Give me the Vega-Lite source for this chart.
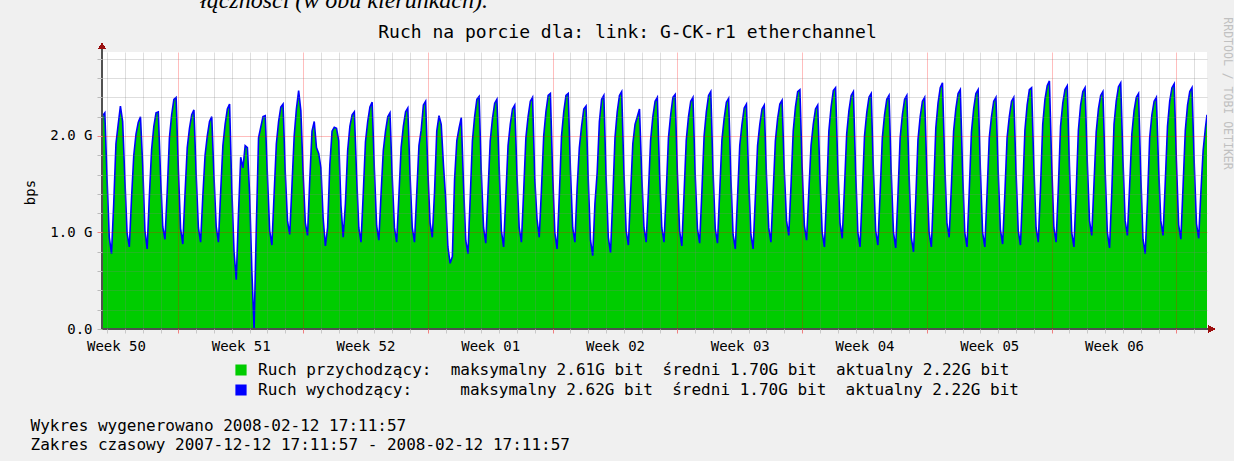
{
"$schema": "https://vega.github.io/schema/vega-lite/v6.json",
"width": 1105, "height": 277,
"autosize": "none",
"padding": {"left": 102, "top": 52, "right": 27, "bottom": 132},
"background": "#f0f0f0",
"config": {"view": {"fill": "#ffffff", "stroke": null}, "font": "DejaVu Sans Mono"},
"title": {"text": "łączności (w obu kierunkach).", "font": "Liberation Serif", "fontStyle": "italic", "fontWeight": "normal", "fontSize": 24, "color": "#000000", "anchor": "start", "frame": "group", "dx": 98, "offset": -15, "baseline": "alphabetic"},
"data": {"format": {"parse": {"t": "date:'%Y%m%d%H%M'"}}, "values": [
{"t":"200712121712","i":2.07,"o":2.07},{"t":"200712121800","i":2.20,"o":2.21},{"t":"200712122100","i":2.24,"o":2.24},
{"t":"200712130000","i":1.56,"o":1.56},{"t":"200712130300","i":0.95,"o":0.95},{"t":"200712130600","i":0.78,"o":0.78},{"t":"200712130900","i":1.30,"o":1.30},{"t":"200712131200","i":1.92,"o":1.92},{"t":"200712131500","i":2.12,"o":2.12},{"t":"200712131800","i":2.31,"o":2.31},{"t":"200712132100","i":2.15,"o":2.15},
{"t":"200712140000","i":1.55,"o":1.55},{"t":"200712140300","i":0.99,"o":0.99},{"t":"200712140600","i":0.85,"o":0.85},{"t":"200712140900","i":1.36,"o":1.36},{"t":"200712141200","i":1.80,"o":1.80},{"t":"200712141500","i":2.02,"o":2.02},{"t":"200712141800","i":2.14,"o":2.14},{"t":"200712142100","i":2.20,"o":2.20},
{"t":"200712150000","i":1.70,"o":1.70},{"t":"200712150300","i":1.02,"o":1.02},{"t":"200712150600","i":0.83,"o":0.83},{"t":"200712150900","i":1.38,"o":1.38},{"t":"200712151200","i":1.86,"o":1.86},{"t":"200712151500","i":2.10,"o":2.10},{"t":"200712151800","i":2.24,"o":2.24},{"t":"200712152100","i":2.25,"o":2.25},
{"t":"200712160000","i":1.60,"o":1.60},{"t":"200712160300","i":1.06,"o":1.06},{"t":"200712160600","i":0.93,"o":0.93},{"t":"200712160900","i":1.42,"o":1.42},{"t":"200712161200","i":1.98,"o":1.98},{"t":"200712161500","i":2.22,"o":2.22},{"t":"200712161800","i":2.38,"o":2.38},{"t":"200712162100","i":2.40,"o":2.40},
{"t":"200712170000","i":1.66,"o":1.66},{"t":"200712170300","i":1.04,"o":1.04},{"t":"200712170600","i":0.88,"o":0.88},{"t":"200712170900","i":1.40,"o":1.40},{"t":"200712171200","i":1.88,"o":1.88},{"t":"200712171500","i":2.08,"o":2.08},{"t":"200712171800","i":2.22,"o":2.22},{"t":"200712172100","i":2.27,"o":2.27},
{"t":"200712180000","i":1.60,"o":1.60},{"t":"200712180300","i":1.05,"o":1.05},{"t":"200712180600","i":0.90,"o":0.90},{"t":"200712180900","i":1.38,"o":1.38},{"t":"200712181200","i":1.80,"o":1.80},{"t":"200712181500","i":2.00,"o":2.00},{"t":"200712181800","i":2.15,"o":2.15},{"t":"200712182100","i":2.20,"o":2.20},
{"t":"200712190000","i":1.58,"o":1.58},{"t":"200712190300","i":1.06,"o":1.06},{"t":"200712190600","i":0.90,"o":0.90},{"t":"200712190900","i":1.42,"o":1.42},{"t":"200712191200","i":1.90,"o":1.90},{"t":"200712191500","i":2.12,"o":2.12},{"t":"200712191800","i":2.28,"o":2.28},{"t":"200712192100","i":2.33,"o":2.33},
{"t":"200712200000","i":1.45,"o":1.45},{"t":"200712200300","i":0.80,"o":0.80},{"t":"200712200600","i":0.51,"o":0.51},{"t":"200712200900","i":1.20,"o":1.20},{"t":"200712201200","i":1.78,"o":1.78},{"t":"200712201500","i":1.67,"o":1.67},{"t":"200712201800","i":1.90,"o":1.90},{"t":"200712202100","i":1.88,"o":1.88},
{"t":"200712210000","i":1.40,"o":1.40},{"t":"200712210300","i":0.60,"o":0.60},{"t":"200712210600","i":0.00,"o":0.00},{"t":"200712210900","i":1.05,"o":1.05},{"t":"200712211200","i":1.98,"o":1.98},{"t":"200712211500","i":2.09,"o":2.09},{"t":"200712211800","i":2.20,"o":2.20},{"t":"200712212100","i":2.21,"o":2.21},
{"t":"200712220000","i":1.58,"o":1.58},{"t":"200712220300","i":1.02,"o":1.02},{"t":"200712220600","i":0.87,"o":0.87},{"t":"200712220900","i":1.40,"o":1.40},{"t":"200712221200","i":1.92,"o":1.92},{"t":"200712221500","i":2.15,"o":2.15},{"t":"200712221800","i":2.30,"o":2.30},{"t":"200712222100","i":2.33,"o":2.33},
{"t":"200712230000","i":1.62,"o":1.62},{"t":"200712230300","i":1.12,"o":1.12},{"t":"200712230600","i":0.98,"o":0.98},{"t":"200712230900","i":1.48,"o":1.48},{"t":"200712231200","i":2.00,"o":2.00},{"t":"200712231500","i":2.28,"o":2.28},{"t":"200712231800","i":2.46,"o":2.47},{"t":"200712232100","i":2.26,"o":2.26},
{"t":"200712240000","i":1.62,"o":1.62},{"t":"200712240300","i":1.10,"o":1.10},{"t":"200712240600","i":0.97,"o":0.97},{"t":"200712240900","i":1.55,"o":1.55},{"t":"200712241200","i":2.05,"o":2.05},{"t":"200712241500","i":2.15,"o":2.15},{"t":"200712241800","i":1.88,"o":1.88},{"t":"200712242100","i":1.82,"o":1.82},
{"t":"200712250000","i":1.67,"o":1.67},{"t":"200712250300","i":1.15,"o":1.15},{"t":"200712250600","i":0.86,"o":0.86},{"t":"200712250900","i":1.05,"o":1.05},{"t":"200712251200","i":1.70,"o":1.70},{"t":"200712251500","i":2.05,"o":2.05},{"t":"200712251800","i":2.09,"o":2.09},{"t":"200712252100","i":2.08,"o":2.08},
{"t":"200712260000","i":1.95,"o":1.95},{"t":"200712260300","i":1.28,"o":1.28},{"t":"200712260600","i":0.95,"o":0.95},{"t":"200712260900","i":1.30,"o":1.30},{"t":"200712261200","i":1.85,"o":1.85},{"t":"200712261500","i":2.10,"o":2.10},{"t":"200712261800","i":2.22,"o":2.22},{"t":"200712262100","i":2.25,"o":2.25},
{"t":"200712270000","i":1.60,"o":1.60},{"t":"200712270300","i":1.05,"o":1.05},{"t":"200712270600","i":0.90,"o":0.90},{"t":"200712270900","i":1.40,"o":1.40},{"t":"200712271200","i":1.94,"o":1.94},{"t":"200712271500","i":2.15,"o":2.15},{"t":"200712271800","i":2.30,"o":2.30},{"t":"200712272100","i":2.35,"o":2.35},
{"t":"200712280000","i":1.65,"o":1.65},{"t":"200712280300","i":1.07,"o":1.07},{"t":"200712280600","i":0.92,"o":0.92},{"t":"200712280900","i":1.40,"o":1.40},{"t":"200712281200","i":1.85,"o":1.85},{"t":"200712281500","i":2.05,"o":2.05},{"t":"200712281800","i":2.20,"o":2.20},{"t":"200712282100","i":2.24,"o":2.24},
{"t":"200712290000","i":1.58,"o":1.58},{"t":"200712290300","i":1.05,"o":1.05},{"t":"200712290600","i":0.90,"o":0.90},{"t":"200712290900","i":1.38,"o":1.38},{"t":"200712291200","i":1.88,"o":1.88},{"t":"200712291500","i":2.10,"o":2.10},{"t":"200712291800","i":2.25,"o":2.25},{"t":"200712292100","i":2.29,"o":2.29},
{"t":"200712300000","i":1.60,"o":1.60},{"t":"200712300300","i":1.05,"o":1.05},{"t":"200712300600","i":0.90,"o":0.90},{"t":"200712300900","i":1.40,"o":1.40},{"t":"200712301200","i":1.90,"o":1.90},{"t":"200712301500","i":2.06,"o":2.06},{"t":"200712301800","i":2.32,"o":2.32},{"t":"200712302100","i":2.36,"o":2.36},
{"t":"200712310000","i":1.64,"o":1.64},{"t":"200712310300","i":1.10,"o":1.10},{"t":"200712310600","i":0.95,"o":0.95},{"t":"200712310900","i":1.42,"o":1.42},{"t":"200712311200","i":2.05,"o":2.05},{"t":"200712311500","i":2.21,"o":2.21},{"t":"200712311800","i":2.12,"o":2.12},{"t":"200712312100","i":1.70,"o":1.70},
{"t":"200801010000","i":1.35,"o":1.35},{"t":"200801010300","i":0.85,"o":0.85},{"t":"200801010600","i":0.68,"o":0.68},{"t":"200801010900","i":0.75,"o":0.75},{"t":"200801011200","i":1.55,"o":1.55},{"t":"200801011500","i":1.95,"o":1.95},{"t":"200801011800","i":2.08,"o":2.08},{"t":"200801012100","i":2.19,"o":2.19},
{"t":"200801020000","i":1.50,"o":1.50},{"t":"200801020300","i":0.92,"o":0.92},{"t":"200801020600","i":0.78,"o":0.78},{"t":"200801020900","i":1.35,"o":1.35},{"t":"200801021200","i":1.95,"o":1.95},{"t":"200801021500","i":2.20,"o":2.20},{"t":"200801021800","i":2.38,"o":2.38},{"t":"200801022100","i":2.41,"o":2.41},
{"t":"200801030000","i":1.62,"o":1.62},{"t":"200801030300","i":1.05,"o":1.05},{"t":"200801030600","i":0.89,"o":0.89},{"t":"200801030900","i":1.42,"o":1.42},{"t":"200801031200","i":1.95,"o":1.95},{"t":"200801031500","i":2.18,"o":2.18},{"t":"200801031800","i":2.34,"o":2.34},{"t":"200801032100","i":2.38,"o":2.38},
{"t":"200801040000","i":1.68,"o":1.68},{"t":"200801040300","i":1.02,"o":1.02},{"t":"200801040600","i":0.85,"o":0.85},{"t":"200801040900","i":1.38,"o":1.38},{"t":"200801041200","i":1.90,"o":1.90},{"t":"200801041500","i":2.12,"o":2.12},{"t":"200801041800","i":2.28,"o":2.28},{"t":"200801042100","i":2.32,"o":2.32},
{"t":"200801050000","i":1.60,"o":1.60},{"t":"200801050300","i":1.05,"o":1.05},{"t":"200801050600","i":0.90,"o":0.90},{"t":"200801050900","i":1.42,"o":1.42},{"t":"200801051200","i":1.98,"o":1.98},{"t":"200801051500","i":2.20,"o":2.20},{"t":"200801051800","i":2.36,"o":2.36},{"t":"200801052100","i":2.40,"o":2.40},
{"t":"200801060000","i":1.55,"o":1.55},{"t":"200801060300","i":1.14,"o":1.14},{"t":"200801060600","i":0.95,"o":0.95},{"t":"200801060900","i":1.45,"o":1.45},{"t":"200801061200","i":2.00,"o":2.00},{"t":"200801061500","i":2.25,"o":2.25},{"t":"200801061800","i":2.42,"o":2.42},{"t":"200801062100","i":2.44,"o":2.44},
{"t":"200801070000","i":1.62,"o":1.62},{"t":"200801070300","i":1.00,"o":1.00},{"t":"200801070600","i":0.83,"o":0.83},{"t":"200801070900","i":1.38,"o":1.38},{"t":"200801071200","i":2.00,"o":2.00},{"t":"200801071500","i":2.25,"o":2.25},{"t":"200801071800","i":2.42,"o":2.42},{"t":"200801072100","i":2.44,"o":2.44},
{"t":"200801080000","i":1.65,"o":1.65},{"t":"200801080300","i":1.05,"o":1.05},{"t":"200801080600","i":0.90,"o":0.90},{"t":"200801080900","i":1.46,"o":1.46},{"t":"200801081200","i":1.88,"o":1.88},{"t":"200801081500","i":2.10,"o":2.10},{"t":"200801081800","i":2.28,"o":2.28},{"t":"200801082100","i":2.31,"o":2.31},
{"t":"200801090000","i":1.55,"o":1.55},{"t":"200801090300","i":0.92,"o":0.92},{"t":"200801090600","i":0.76,"o":0.76},{"t":"200801090900","i":1.30,"o":1.30},{"t":"200801091200","i":1.62,"o":1.62},{"t":"200801091500","i":2.15,"o":2.15},{"t":"200801091800","i":2.38,"o":2.38},{"t":"200801092100","i":2.42,"o":2.42},
{"t":"200801100000","i":1.58,"o":1.58},{"t":"200801100300","i":0.95,"o":0.95},{"t":"200801100600","i":0.79,"o":0.79},{"t":"200801100900","i":1.35,"o":1.35},{"t":"200801101200","i":1.98,"o":1.98},{"t":"200801101500","i":2.25,"o":2.25},{"t":"200801101800","i":2.42,"o":2.42},{"t":"200801102100","i":2.46,"o":2.46},
{"t":"200801110000","i":1.64,"o":1.64},{"t":"200801110300","i":1.02,"o":1.02},{"t":"200801110600","i":0.87,"o":0.87},{"t":"200801110900","i":1.40,"o":1.40},{"t":"200801111200","i":1.92,"o":1.92},{"t":"200801111500","i":2.12,"o":2.12},{"t":"200801111800","i":2.20,"o":2.20},{"t":"200801112100","i":2.28,"o":2.28},
{"t":"200801120000","i":1.60,"o":1.60},{"t":"200801120300","i":1.05,"o":1.05},{"t":"200801120600","i":0.90,"o":0.90},{"t":"200801120900","i":1.42,"o":1.42},{"t":"200801121200","i":1.96,"o":1.96},{"t":"200801121500","i":2.20,"o":2.20},{"t":"200801121800","i":2.36,"o":2.36},{"t":"200801122100","i":2.40,"o":2.40},
{"t":"200801130000","i":1.62,"o":1.62},{"t":"200801130300","i":1.05,"o":1.05},{"t":"200801130600","i":0.90,"o":0.90},{"t":"200801130900","i":1.42,"o":1.42},{"t":"200801131200","i":1.98,"o":1.98},{"t":"200801131500","i":2.22,"o":2.22},{"t":"200801131800","i":2.40,"o":2.40},{"t":"200801132100","i":2.43,"o":2.43},
{"t":"200801140000","i":1.62,"o":1.62},{"t":"200801140300","i":1.02,"o":1.02},{"t":"200801140600","i":0.86,"o":0.86},{"t":"200801140900","i":1.40,"o":1.40},{"t":"200801141200","i":1.96,"o":1.96},{"t":"200801141500","i":2.20,"o":2.20},{"t":"200801141800","i":2.36,"o":2.36},{"t":"200801142100","i":2.40,"o":2.40},
{"t":"200801150000","i":1.60,"o":1.60},{"t":"200801150300","i":1.04,"o":1.04},{"t":"200801150600","i":0.89,"o":0.89},{"t":"200801150900","i":1.42,"o":1.42},{"t":"200801151200","i":2.00,"o":2.00},{"t":"200801151500","i":2.25,"o":2.25},{"t":"200801151800","i":2.42,"o":2.42},{"t":"200801152100","i":2.46,"o":2.46},
{"t":"200801160000","i":1.64,"o":1.64},{"t":"200801160300","i":1.04,"o":1.04},{"t":"200801160600","i":0.89,"o":0.89},{"t":"200801160900","i":1.42,"o":1.42},{"t":"200801161200","i":1.96,"o":1.96},{"t":"200801161500","i":2.18,"o":2.18},{"t":"200801161800","i":2.35,"o":2.35},{"t":"200801162100","i":2.39,"o":2.39},
{"t":"200801170000","i":1.58,"o":1.58},{"t":"200801170300","i":0.98,"o":0.98},{"t":"200801170600","i":0.83,"o":0.83},{"t":"200801170900","i":1.36,"o":1.36},{"t":"200801171200","i":1.90,"o":1.90},{"t":"200801171500","i":2.12,"o":2.12},{"t":"200801171800","i":2.29,"o":2.29},{"t":"200801172100","i":2.33,"o":2.33},
{"t":"200801180000","i":1.56,"o":1.56},{"t":"200801180300","i":0.98,"o":0.98},{"t":"200801180600","i":0.83,"o":0.83},{"t":"200801180900","i":1.36,"o":1.36},{"t":"200801181200","i":1.90,"o":1.90},{"t":"200801181500","i":2.12,"o":2.12},{"t":"200801181800","i":2.28,"o":2.28},{"t":"200801182100","i":2.32,"o":2.32},
{"t":"200801190000","i":1.58,"o":1.58},{"t":"200801190300","i":1.05,"o":1.05},{"t":"200801190600","i":0.90,"o":0.90},{"t":"200801190900","i":1.42,"o":1.42},{"t":"200801191200","i":1.95,"o":1.95},{"t":"200801191500","i":2.18,"o":2.18},{"t":"200801191800","i":2.33,"o":2.33},{"t":"200801192100","i":2.37,"o":2.37},
{"t":"200801200000","i":1.64,"o":1.64},{"t":"200801200300","i":1.12,"o":1.12},{"t":"200801200600","i":0.97,"o":0.97},{"t":"200801200900","i":1.48,"o":1.48},{"t":"200801201200","i":2.05,"o":2.05},{"t":"200801201500","i":2.30,"o":2.30},{"t":"200801201800","i":2.46,"o":2.46},{"t":"200801202100","i":2.48,"o":2.48},
{"t":"200801210000","i":1.68,"o":1.68},{"t":"200801210300","i":1.07,"o":1.07},{"t":"200801210600","i":0.92,"o":0.92},{"t":"200801210900","i":1.42,"o":1.42},{"t":"200801211200","i":1.90,"o":1.90},{"t":"200801211500","i":2.12,"o":2.12},{"t":"200801211800","i":2.28,"o":2.28},{"t":"200801212100","i":2.32,"o":2.32},
{"t":"200801220000","i":1.58,"o":1.58},{"t":"200801220300","i":1.00,"o":1.00},{"t":"200801220600","i":0.85,"o":0.85},{"t":"200801220900","i":1.40,"o":1.40},{"t":"200801221200","i":2.05,"o":2.05},{"t":"200801221500","i":2.30,"o":2.30},{"t":"200801221800","i":2.47,"o":2.47},{"t":"200801222100","i":2.50,"o":2.50},
{"t":"200801230000","i":1.70,"o":1.70},{"t":"200801230300","i":1.10,"o":1.10},{"t":"200801230600","i":0.94,"o":0.94},{"t":"200801230900","i":1.46,"o":1.46},{"t":"200801231200","i":2.02,"o":2.02},{"t":"200801231500","i":2.26,"o":2.26},{"t":"200801231800","i":2.42,"o":2.42},{"t":"200801232100","i":2.46,"o":2.46},
{"t":"200801240000","i":1.65,"o":1.65},{"t":"200801240300","i":1.00,"o":1.00},{"t":"200801240600","i":0.85,"o":0.85},{"t":"200801240900","i":1.40,"o":1.40},{"t":"200801241200","i":2.00,"o":2.00},{"t":"200801241500","i":2.24,"o":2.24},{"t":"200801241800","i":2.40,"o":2.40},{"t":"200801242100","i":2.44,"o":2.44},
{"t":"200801250000","i":1.64,"o":1.64},{"t":"200801250300","i":1.02,"o":1.02},{"t":"200801250600","i":0.87,"o":0.87},{"t":"200801250900","i":1.40,"o":1.40},{"t":"200801251200","i":1.98,"o":1.98},{"t":"200801251500","i":2.22,"o":2.22},{"t":"200801251800","i":2.38,"o":2.38},{"t":"200801252100","i":2.42,"o":2.42},
{"t":"200801260000","i":1.62,"o":1.62},{"t":"200801260300","i":1.00,"o":1.00},{"t":"200801260600","i":0.84,"o":0.84},{"t":"200801260900","i":1.38,"o":1.38},{"t":"200801261200","i":1.98,"o":1.98},{"t":"200801261500","i":2.22,"o":2.22},{"t":"200801261800","i":2.38,"o":2.38},{"t":"200801262100","i":2.42,"o":2.42},
{"t":"200801270000","i":1.60,"o":1.60},{"t":"200801270300","i":0.95,"o":0.95},{"t":"200801270600","i":0.80,"o":0.80},{"t":"200801270900","i":1.34,"o":1.34},{"t":"200801271200","i":1.96,"o":1.96},{"t":"200801271500","i":2.20,"o":2.20},{"t":"200801271800","i":2.36,"o":2.36},{"t":"200801272100","i":2.40,"o":2.40},
{"t":"200801280000","i":1.60,"o":1.60},{"t":"200801280300","i":1.00,"o":1.00},{"t":"200801280600","i":0.85,"o":0.85},{"t":"200801280900","i":1.42,"o":1.42},{"t":"200801281200","i":2.08,"o":2.08},{"t":"200801281500","i":2.34,"o":2.34},{"t":"200801281800","i":2.50,"o":2.50},{"t":"200801282100","i":2.54,"o":2.55},
{"t":"200801290000","i":1.72,"o":1.72},{"t":"200801290300","i":1.10,"o":1.10},{"t":"200801290600","i":0.95,"o":0.95},{"t":"200801290900","i":1.48,"o":1.48},{"t":"200801291200","i":2.05,"o":2.05},{"t":"200801291500","i":2.28,"o":2.28},{"t":"200801291800","i":2.44,"o":2.44},{"t":"200801292100","i":2.48,"o":2.48},
{"t":"200801300000","i":1.66,"o":1.66},{"t":"200801300300","i":1.00,"o":1.00},{"t":"200801300600","i":0.85,"o":0.85},{"t":"200801300900","i":1.42,"o":1.42},{"t":"200801301200","i":2.04,"o":2.04},{"t":"200801301500","i":2.28,"o":2.28},{"t":"200801301800","i":2.44,"o":2.44},{"t":"200801302100","i":2.48,"o":2.48},
{"t":"200801310000","i":1.66,"o":1.66},{"t":"200801310300","i":1.00,"o":1.00},{"t":"200801310600","i":0.85,"o":0.85},{"t":"200801310900","i":1.40,"o":1.40},{"t":"200801311200","i":1.98,"o":1.98},{"t":"200801311500","i":2.20,"o":2.20},{"t":"200801311800","i":2.36,"o":2.36},{"t":"200801312100","i":2.40,"o":2.40},
{"t":"200802010000","i":1.64,"o":1.64},{"t":"200802010300","i":1.03,"o":1.03},{"t":"200802010600","i":0.88,"o":0.88},{"t":"200802010900","i":1.40,"o":1.40},{"t":"200802011200","i":1.98,"o":1.98},{"t":"200802011500","i":2.20,"o":2.20},{"t":"200802011800","i":2.36,"o":2.36},{"t":"200802012100","i":2.40,"o":2.40},
{"t":"200802020000","i":1.64,"o":1.64},{"t":"200802020300","i":1.02,"o":1.02},{"t":"200802020600","i":0.87,"o":0.87},{"t":"200802020900","i":1.42,"o":1.42},{"t":"200802021200","i":2.06,"o":2.06},{"t":"200802021500","i":2.32,"o":2.32},{"t":"200802021800","i":2.48,"o":2.48},{"t":"200802022100","i":2.50,"o":2.50},
{"t":"200802030000","i":1.70,"o":1.70},{"t":"200802030300","i":1.05,"o":1.05},{"t":"200802030600","i":0.90,"o":0.90},{"t":"200802030900","i":1.46,"o":1.46},{"t":"200802031200","i":2.12,"o":2.12},{"t":"200802031500","i":2.38,"o":2.38},{"t":"200802031800","i":2.52,"o":2.52},{"t":"200802032100","i":2.56,"o":2.57},
{"t":"200802040000","i":1.73,"o":1.73},{"t":"200802040300","i":1.05,"o":1.05},{"t":"200802040600","i":0.90,"o":0.90},{"t":"200802040900","i":1.46,"o":1.46},{"t":"200802041200","i":2.10,"o":2.10},{"t":"200802041500","i":2.34,"o":2.34},{"t":"200802041800","i":2.48,"o":2.48},{"t":"200802042100","i":2.52,"o":2.52},
{"t":"200802050000","i":1.68,"o":1.68},{"t":"200802050300","i":1.00,"o":1.00},{"t":"200802050600","i":0.85,"o":0.85},{"t":"200802050900","i":1.42,"o":1.42},{"t":"200802051200","i":2.06,"o":2.06},{"t":"200802051500","i":2.32,"o":2.32},{"t":"200802051800","i":2.46,"o":2.46},{"t":"200802052100","i":2.50,"o":2.50},
{"t":"200802060000","i":1.73,"o":1.73},{"t":"200802060300","i":1.12,"o":1.12},{"t":"200802060600","i":0.97,"o":0.97},{"t":"200802060900","i":1.50,"o":1.50},{"t":"200802061200","i":2.04,"o":2.04},{"t":"200802061500","i":2.28,"o":2.28},{"t":"200802061800","i":2.42,"o":2.42},{"t":"200802062100","i":2.46,"o":2.46},
{"t":"200802070000","i":1.65,"o":1.65},{"t":"200802070300","i":1.00,"o":1.00},{"t":"200802070600","i":0.84,"o":0.84},{"t":"200802070900","i":1.42,"o":1.42},{"t":"200802071200","i":2.12,"o":2.12},{"t":"200802071500","i":2.36,"o":2.36},{"t":"200802071800","i":2.51,"o":2.51},{"t":"200802072100","i":2.55,"o":2.55},
{"t":"200802080000","i":1.76,"o":1.76},{"t":"200802080300","i":1.12,"o":1.12},{"t":"200802080600","i":0.97,"o":0.97},{"t":"200802080900","i":1.48,"o":1.48},{"t":"200802081200","i":2.02,"o":2.02},{"t":"200802081500","i":2.26,"o":2.26},{"t":"200802081800","i":2.40,"o":2.40},{"t":"200802082100","i":2.44,"o":2.44},
{"t":"200802090000","i":1.61,"o":1.61},{"t":"200802090300","i":0.93,"o":0.93},{"t":"200802090600","i":0.78,"o":0.78},{"t":"200802090900","i":1.32,"o":1.32},{"t":"200802091200","i":1.98,"o":1.98},{"t":"200802091500","i":2.22,"o":2.22},{"t":"200802091800","i":2.36,"o":2.36},{"t":"200802092100","i":2.40,"o":2.40},
{"t":"200802100000","i":1.68,"o":1.68},{"t":"200802100300","i":1.12,"o":1.12},{"t":"200802100600","i":0.97,"o":0.97},{"t":"200802100900","i":1.52,"o":1.52},{"t":"200802101200","i":2.10,"o":2.10},{"t":"200802101500","i":2.36,"o":2.36},{"t":"200802101800","i":2.50,"o":2.50},{"t":"200802102100","i":2.54,"o":2.54},
{"t":"200802110000","i":1.74,"o":1.74},{"t":"200802110300","i":1.08,"o":1.08},{"t":"200802110600","i":0.93,"o":0.93},{"t":"200802110900","i":1.48,"o":1.48},{"t":"200802111200","i":2.06,"o":2.06},{"t":"200802111500","i":2.32,"o":2.32},{"t":"200802111800","i":2.46,"o":2.46},{"t":"200802112100","i":2.50,"o":2.50},
{"t":"200802120000","i":1.72,"o":1.72},{"t":"200802120300","i":1.09,"o":1.09},{"t":"200802120600","i":0.94,"o":0.94},{"t":"200802120900","i":1.42,"o":1.42},{"t":"200802121200","i":1.85,"o":1.85},{"t":"200802121500","i":2.08,"o":2.08},{"t":"200802121712","i":2.22,"o":2.22}
]},
"layer": [
{
"mark": {"type": "area", "opacity": 1, "clip": true, "interpolate": "linear"},
"encoding": {
"x": {"field": "t", "type": "temporal",
"scale": {"domain": [{"year":2007,"month":12,"date":12,"hours":17,"minutes":11,"seconds":57},{"year":2008,"month":2,"date":12,"hours":17,"minutes":11,"seconds":57}], "nice": false},
"axis": {"orient": "bottom", "tickCount": {"interval": "day", "step": 1},
"labelExpr": "day(datum.value) == 4 ? 'Week ' + timeFormat(datum.value, '%V') : ''",
"labelOffset": 8.9, "labelAngle": 0, "labelOverlap": false, "labelFlush": false, "labelBound": false,
"labelFont": "DejaVu Sans Mono", "labelFontSize": 14, "labelColor": "#000000", "labelPadding": 6,
"ticks": true, "tickSize": 4, "tickColor": {"condition": {"test": "day(datum.value) == 1", "value": "#f08080"}, "value": "#c8c8c8"},
"grid": true, "gridColor": {"condition": {"test": "day(datum.value) == 1", "value": "#ff0000"}, "value": "#808080"}, "gridOpacity": 0.26,
"domain": false, "zindex": 1,
"title": ["Wykres wygenerowano 2008-02-12 17:11:57", "Zakres czasowy 2007-12-12 17:11:57 - 2008-02-12 17:11:57"],
"titleFont": "DejaVu Sans Mono", "titleFontSize": 16, "titleFontWeight": "normal", "titleColor": "#000000",
"titleX": -72, "titleY": 88, "titleAlign": "left", "titleAnchor": "start", "titleBaseline": "top", "titleLineHeight": 19}},
"y": {"field": "i", "type": "quantitative",
"scale": {"domain": [0, 2.87], "nice": false, "zero": true},
"axis": {"orient": "left", "values": [0,0.2,0.4,0.6,0.8,1,1.2,1.4,1.6,1.8,2,2.2,2.4,2.6,2.8],
"labelExpr": "datum.value == 0 ? '0.0' : (datum.value == 1 || datum.value == 2) ? format(datum.value, '.1f') + ' G' : ''",
"labelFont": "DejaVu Sans Mono", "labelFontSize": 14, "labelColor": "#000000", "labelPadding": 5,
"ticks": true, "tickSize": 5, "tickColor": {"condition": {"test": "datum.value == 1 || datum.value == 2", "value": "#f08080"}, "value": "#bbbbbb"},
"grid": true, "gridColor": {"condition": {"test": "datum.value == 1 || datum.value == 2", "value": "#ff0000"}, "value": "#808080"},
"gridOpacity": {"condition": {"test": "datum.value == 0", "value": 0}, "value": 0.26},
"domain": false, "zindex": 1,
"title": "bps", "titleFont": "DejaVu Sans Mono", "titleFontSize": 14, "titleFontWeight": "normal", "titleColor": "#000000",
"titleX": -68, "titleY": 140, "titleAngle": -90, "titleAlign": "center", "titleBaseline": "alphabetic"}},
"color": {"datum": "in", "type": "nominal",
"scale": {"domain": ["in", "out"], "range": ["#00cc00", "#0000ff"]},
"legend": {"orient": "none", "legendX": 131, "legendY": 310, "direction": "vertical", "title": null,
"symbolType": "square", "symbolSize": 100, "symbolStrokeColor": "#000000", "symbolStrokeWidth": 1, "symbolOpacity": 1,
"labelFont": "DejaVu Sans Mono", "labelFontSize": 16, "labelColor": "#000000", "labelLimit": 0, "labelOffset": 9, "rowPadding": 4, "padding": 0,
"labelExpr": "datum.value == 'in' ? 'Ruch przychodzący:\u00a0\u00a0maksymalny 2.61G bit\u00a0\u00a0średni 1.70G bit\u00a0\u00a0aktualny 2.22G bit' : 'Ruch wychodzący:\u00a0\u00a0\u00a0\u00a0\u00a0maksymalny 2.62G bit\u00a0\u00a0średni 1.70G bit\u00a0\u00a0aktualny 2.22G bit'",
"encode": {"symbols": {"enter": {"stroke": {"value": "#000000"}, "strokeWidth": {"value": 1.2}, "strokeOpacity": {"value": 1}}, "update": {"fill": {"scale": "color", "field": "value"}, "stroke": {"value": "#000000"}, "strokeWidth": {"value": 1.2}, "strokeOpacity": {"value": 1}, "opacity": {"value": 1}, "shape": {"value": "square"}}}}}}
}
},
{
"mark": {"type": "line", "strokeWidth": 1.6, "clip": true, "interpolate": "linear"},
"encoding": {
"x": {"field": "t", "type": "temporal",
"scale": {"domain": [{"year":2007,"month":12,"date":12,"hours":17,"minutes":11,"seconds":57},{"year":2008,"month":2,"date":12,"hours":17,"minutes":11,"seconds":57}], "nice": false},
"axis": {"orient": "top", "domain": false, "ticks": false, "labels": false, "grid": false,
"title": "Ruch na porcie dla: link: G-CK-r1 etherchannel", "titleFont": "DejaVu Sans Mono", "titleFontSize": 18, "titleFontWeight": "normal", "titleColor": "#000000",
"titleX": 525, "titleY": -15, "titleAlign": "center", "titleBaseline": "alphabetic"}},
"y": {"field": "o", "type": "quantitative",
"scale": {"domain": [0, 2.87], "nice": false, "zero": true},
"axis": {"orient": "right", "domain": false, "ticks": false, "labels": false, "grid": false,
"title": "RRDTOOL / TOBI OETIKER", "titleFont": "DejaVu Sans Mono", "titleFontSize": 11.5, "titleFontWeight": "normal", "titleColor": "#c0c0c0",
"titleX": 16, "titleY": 41, "titleAngle": 90, "titleAlign": "center", "titleBaseline": "alphabetic"}},
"color": {"datum": "out", "type": "nominal"}
}
},
{
"mark": {"type": "rule", "color": "#505050", "strokeWidth": 1},
"encoding": {
"x": {"datum": {"year":2007,"month":12,"date":12,"hours":17,"minutes":11,"seconds":57}, "type": "temporal", "axis": null},
"y": {"datum": 0, "type": "quantitative", "axis": null},
"y2": {"datum": 2.93}
}
},
{
"mark": {"type": "rule", "color": "#505050", "strokeWidth": 1},
"encoding": {
"x": {"datum": {"year":2007,"month":12,"date":12,"hours":17,"minutes":11,"seconds":57}, "type": "temporal", "axis": null},
"x2": {"datum": {"year":2008,"month":2,"date":12,"hours":23,"minutes":12}},
"y": {"datum": 0, "type": "quantitative", "axis": null}
}
},
{
"mark": {"type": "point", "shape": "triangle-up", "filled": true, "color": "#9a1010", "size": 45, "opacity": 1},
"encoding": {
"x": {"datum": {"year":2007,"month":12,"date":12,"hours":17,"minutes":11,"seconds":57}, "type": "temporal", "axis": null},
"y": {"datum": 2.93, "type": "quantitative", "axis": null}
}
},
{
"mark": {"type": "point", "shape": "triangle-right", "filled": true, "color": "#9a1010", "size": 45, "opacity": 1},
"encoding": {
"x": {"datum": {"year":2008,"month":2,"date":12,"hours":23,"minutes":12}, "type": "temporal", "axis": null},
"y": {"datum": 0, "type": "quantitative", "axis": null}
}
}
],
"resolve": {"axis": {"x": "independent", "y": "independent"}}
}
